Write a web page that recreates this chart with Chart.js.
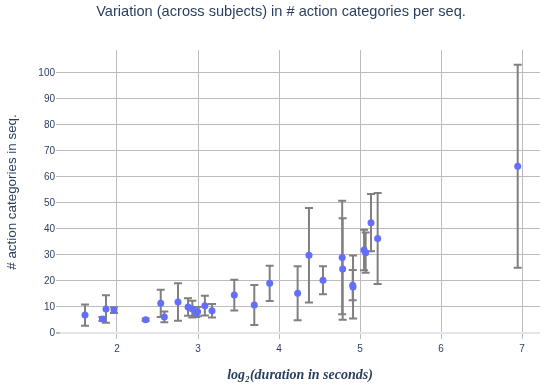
<!DOCTYPE html>
<html>
<head>
<meta charset="utf-8">
<script src="https://cdn.jsdelivr.net/npm/chart.js@4.4.1/dist/chart.umd.min.js"></script>
<style>
  html, body { margin: 0; padding: 0; background: #fff; }
  #wrap { width: 545px; height: 385px; position: relative; }
</style>
</head>
<body>
<div id="wrap"><canvas id="chart"></canvas></div>
<script>
// texts
const chartTitle = 'Variation (across subjects) in # action categories per seq.';
const xTitle = 'log\u2082(duration in seconds)';
const yTitle = '# action categories in seq.';

// one entry per sequence: log2 duration, mean # categories, spread across subjects
const logDuration = [
  1.605, 1.82, 1.864, 1.963, 2.354, 2.54, 2.584, 2.753, 2.877, 2.93,
  2.975, 2.995, 3.085, 3.173, 3.448, 3.695, 3.885, 4.23, 4.37, 4.543,
  4.78, 4.786, 4.91, 4.914, 5.05, 5.07, 5.136, 5.218, 6.947
];
const meanCategories = [
  6.9, 5.4, 9.2, 8.8, 5.1, 11.4, 6.2, 11.9, 10.0, 9.2,
  7.6, 8.2, 10.5, 8.6, 14.6, 10.8, 19.1, 15.3, 29.9, 20.3,
  29.0, 24.6, 18.4, 17.7, 31.9, 30.9, 42.4, 36.3, 64.1
];
const stdCategories = [
  4.1, 0.8, 5.3, 1.1, 0.5, 5.2, 2.1, 7.2, 3.4, 3.2,
  1.4, 1.8, 3.8, 2.6, 5.9, 7.7, 6.8, 10.4, 18.2, 5.4,
  21.8, 19.5, 5.8, 12.1, 7.8, 7.7, 11.0, 17.5, 39.0
];

const xTicks = [2, 3, 4, 5, 6, 7];
const yTicks = [0, 10, 20, 30, 40, 50, 60, 70, 80, 90, 100];

const textColor = '#2a3f5f';
const gridColor = '#bcbcc0';

// whiskers drawn under the points
const errorBars = {
  id: 'errorBars',
  beforeDatasetsDraw(chart) {
    const { ctx, scales: { x, y } } = chart;
    ctx.save();
    ctx.strokeStyle = '#808080';
    ctx.lineWidth = 2;
    logDuration.forEach((d, i) => {
      const px = x.getPixelForValue(d);
      const top = y.getPixelForValue(meanCategories[i] + stdCategories[i]);
      const bot = y.getPixelForValue(meanCategories[i] - stdCategories[i]);
      ctx.beginPath();
      ctx.moveTo(px, top); ctx.lineTo(px, bot);
      ctx.moveTo(px - 4, top); ctx.lineTo(px + 4, top);
      ctx.moveTo(px - 4, bot); ctx.lineTo(px + 4, bot);
      ctx.stroke();
    });
    ctx.restore();
  }
};

// main title sits a bit right of the canvas centre, like the original
const plotTitle = {
  id: 'plotTitle',
  afterDraw(chart) {
    const ctx = chart.ctx;
    ctx.save();
    ctx.fillStyle = textColor;
    ctx.font = '14.6px "Liberation Sans", Arial, sans-serif';
    ctx.textAlign = 'center';
    ctx.textBaseline = 'middle';
    ctx.fillText(chartTitle, 281, 12);
    ctx.restore();
  }
};

new Chart(document.getElementById('chart'), {
  type: 'scatter',
  data: {
    datasets: [{
      data: logDuration.map((d, i) => ({ x: d, y: meanCategories[i] })),
      backgroundColor: '#636efa',
      borderWidth: 0,
      pointRadius: 3.5
    }]
  },
  options: {
    responsive: true,
    maintainAspectRatio: false,
    animation: false,
    layout: { padding: { top: 50, right: 5, left: 0, bottom: 0 } },
    plugins: { legend: { display: false }, tooltip: { enabled: false } },
    scales: {
      x: {
        type: 'linear',
        min: 1.2963,
        max: 7.2222,
        afterBuildTicks: s => { s.ticks = xTicks.map(v => ({ value: v })); },
        afterFit: s => { s.height = 51; },
        border: { display: false },
        grid: { color: gridColor, lineWidth: 1, tickLength: 5, tickColor: gridColor },
        ticks: { color: textColor, font: { size: 10, family: '"Liberation Sans", Arial' }, padding: 4, maxRotation: 0 },
        title: {
          display: true,
          text: xTitle,
          color: textColor,
          font: { size: 14, family: '"Liberation Serif", serif', style: 'italic', weight: 'bold' },
          padding: { top: 0, bottom: 1 }
        }
      },
      y: {
        min: -0.38,
        max: 108.8,
        afterBuildTicks: s => { s.ticks = yTicks.map(v => ({ value: v })); },
        afterFit: s => { s.width = 60; },
        border: { display: false },
        grid: {
          color: c => (c.tick && c.tick.value === 0 ? '#e3e6ef' : gridColor),
          lineWidth: c => (c.tick && c.tick.value === 0 ? 2 : 1),
          tickLength: 4,
          tickColor: gridColor
        },
        ticks: { color: textColor, font: { size: 10, family: '"Liberation Sans", Arial' }, padding: 1 },
        title: {
          display: true,
          text: yTitle,
          color: textColor,
          font: { size: 13.4, family: '"Liberation Sans", Arial' },
          padding: { top: 4, bottom: 0 }
        }
      }
    }
  },
  plugins: [errorBars, plotTitle]
});
</script>
</body>
</html>
